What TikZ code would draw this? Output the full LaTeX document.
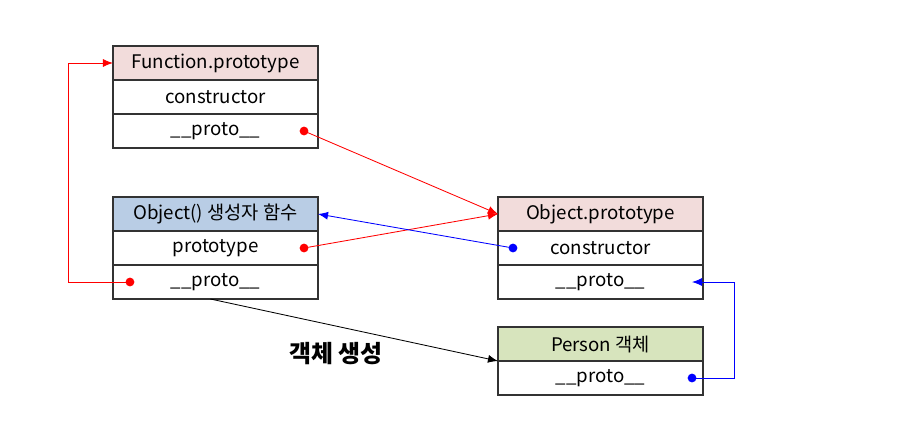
\documentclass[tikz,border=0pt]{standalone}
\usepackage{fontspec}
\setmainfont{Noto Sans CJK KR}
\usetikzlibrary{arrows.meta,positioning,calc}

\definecolor{pinkhd}{HTML}{F2DCDB}
\definecolor{bluehd}{HTML}{B9CDE5}
\definecolor{greenhd}{HTML}{D7E4BD}

\begin{document}
\begin{tikzpicture}
    [x=0.025cm,y=-0.025cm,
     cell/.style={draw=black!80,line width=0.9pt,outer sep=0pt,inner sep=0pt,
                  minimum width=5.125cm,minimum height=0.85cm,
                  font=\fontsize{13.3}{15}\selectfont},
     link/.style={line width=0.6pt,-{Latex[length=2.5mm,width=2mm]}},
     dot/.style={circle,fill,inner sep=0pt,minimum size=2.2mm}]

    \useasboundingbox (0,0) rectangle (914,446);

    % Function.prototype
    \node[cell,fill=pinkhd] (fp-h) at (215.5,63) {Function.prototype};
    \node[cell,below=0pt of fp-h] (fp-c) {constructor};
    \node[cell,below=0pt of fp-c] (fp-p) {\_\_proto\_\_};

    % Object() constructor function
    \node[cell,fill=bluehd] (ob-h) at (215.5,214) {Object() 생성자 함수};
    \node[cell,below=0pt of ob-h] (ob-t) {prototype};
    \node[cell,below=0pt of ob-t] (ob-p) {\_\_proto\_\_};

    % Object.prototype
    \node[cell,fill=pinkhd] (op-h) at (600.5,214) {Object.prototype};
    \node[cell,below=0pt of op-h] (op-c) {constructor};
    \node[cell,below=0pt of op-c] (op-p) {\_\_proto\_\_};

    % Person object
    \node[cell,fill=greenhd] (pe-h) at (600.5,344) {Person 객체};
    \node[cell,below=0pt of pe-h] (pe-p) {\_\_proto\_\_};

    \node[font=\bfseries\fontsize{17}{20}\selectfont] (make) at (336,354) {객체 생성};

    % dots
    \node[dot,red] (fp-pd) at ($(fp-p.east)+(-14,0)$) {};
    \node[dot,red] (ob-td) at ($(ob-t.east)+(-14,0)$) {};
    \node[dot,red] (ob-pd) at ($(ob-p.west)+(17,0)$) {};
    \node[dot,blue] (op-cd) at ($(op-c.west)+(15,0)$) {};
    \node[dot,blue] (pe-pd) at ($(pe-p.east)+(-11,0)$) {};
    \coordinate (op-pt) at ($(op-p.east)+(-11,0)$);

    % links
    \draw[link,red] (fp-pd.center) -- (op-h.west);
    \draw[link,red] (ob-td.center) -- (op-h.west);
    \draw[link,blue] (op-cd.center) -- (ob-h.east);
    \draw[link,red] (ob-pd.center) -- ++(-62,0) |- (fp-h.west);
    \draw[link,blue] (pe-pd.center) -- ++(42,0) |- (op-pt);
    \draw[link,black] ($(ob-p.south)+(-5,0)$) -- (pe-h.south west);
\end{tikzpicture}
\end{document}
